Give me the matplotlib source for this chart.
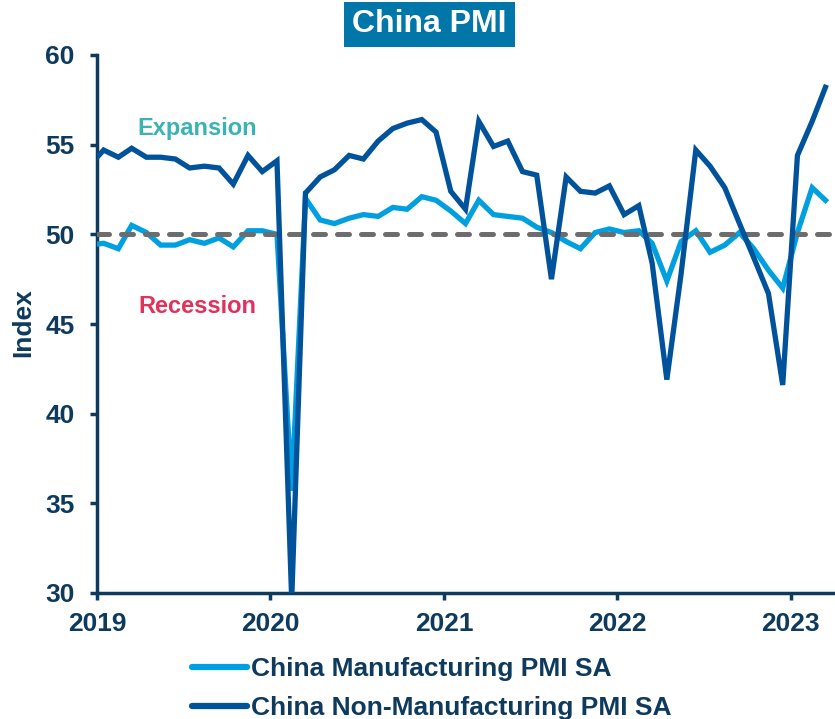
import numpy as np
import pandas as pd
import matplotlib
matplotlib.use('Agg')
import matplotlib.pyplot as plt
from matplotlib.patches import Rectangle

plt.rcParams['font.family'] = ['Liberation Sans', 'DejaVu Sans']
plt.rcParams['font.weight'] = 'bold'

# monthly values, Dec 2018 .. Mar 2023 (plotted mid-month)
months = pd.date_range('2018-12-01', '2023-03-01', freq='MS') + pd.Timedelta(days=14)

mfg_pmi = [49.4,
           49.5, 49.2, 50.5, 50.1, 49.4, 49.4, 49.7, 49.5, 49.8, 49.3, 50.2, 50.2,
           50.0, 35.7, 52.0, 50.8, 50.6, 50.9, 51.1, 51.0, 51.5, 51.4, 52.1, 51.9,
           51.3, 50.6, 51.9, 51.1, 51.0, 50.9, 50.4, 50.1, 49.6, 49.2, 50.1, 50.3,
           50.1, 50.2, 49.5, 47.4, 49.6, 50.2, 49.0, 49.4, 50.1, 49.2, 48.0, 47.0,
           50.1, 52.6, 51.9]

non_mfg_pmi = [53.8,
               54.7, 54.3, 54.8, 54.3, 54.3, 54.2, 53.7, 53.8, 53.7, 52.8, 54.4, 53.5,
               54.1, 29.6, 52.3, 53.2, 53.6, 54.4, 54.2, 55.2, 55.9, 56.2, 56.4, 55.7,
               52.4, 51.4, 56.3, 54.9, 55.2, 53.5, 53.3, 47.5, 53.2, 52.4, 52.3, 52.7,
               51.1, 51.6, 48.4, 41.9, 47.8, 54.7, 53.8, 52.6, 50.6, 48.7, 46.7, 41.6,
               54.4, 56.3, 58.2]

year_ticks = ['2019', '2020', '2021', '2022', '2023']
y_ticks = [30, 35, 40, 45, 50, 55, 60]

NAVY = '#0E3A5E'
LIGHT = '#00A0E0'
DARK = '#00529B'

W, H = 835, 719
fig = plt.figure(figsize=(W / 100, H / 100), dpi=100)
ax = fig.add_axes([97 / W, 1 - 593 / H, (834 - 97) / W, (593 - 55) / H])

ax.plot(months, mfg_pmi, color=LIGHT, lw=3.8, solid_joinstyle='miter', zorder=3,
        label='China Manufacturing PMI SA')
ax.axhline(50, color='#6D6D6D', lw=3.6, dashes=(2.4, 2.4), dash_capstyle='round', zorder=4)
ax.plot(months, non_mfg_pmi, color=DARK, lw=3.8, solid_joinstyle='miter', zorder=5,
        label='China Non-Manufacturing PMI SA')

ax.set_xlim(pd.Timestamp('2019-01-01'), pd.Timestamp('2023-04-02'))
ax.set_ylim(30, 60)
ax.set_xticks([pd.Timestamp(y + '-01-01') for y in year_ticks])
ax.set_xticklabels(year_ticks)
ax.set_yticks(y_ticks)

for s in ['top', 'right']:
    ax.spines[s].set_visible(False)
for s in ['left', 'bottom']:
    ax.spines[s].set_color(NAVY)
    ax.spines[s].set_linewidth(2.5)
ax.tick_params(axis='both', colors=NAVY, labelsize=19, width=2.5, length=5)
ax.tick_params(axis='x', pad=9)
ax.tick_params(axis='y', pad=11)
for lab in ax.get_xticklabels() + ax.get_yticklabels():
    lab.set_fontweight('bold')

# y label placed by hand, centred at x=22px
fig.text(23 / W, 1 - 323 / H, 'Index', rotation=90, fontsize=19, fontweight='bold',
         color=NAVY, ha='center', va='center')

ax.text(pd.Timestamp('2019-08-01'), 55.9, 'Expansion', color='#3BB3B3', fontsize=17,
        fontweight='bold', ha='center', va='center')
ax.text(pd.Timestamp('2019-08-01'), 46.0, 'Recession', color='#E0325A', fontsize=17,
        fontweight='bold', ha='center', va='center')

# title box
fig.patches.append(Rectangle((344 / W, 1 - 47 / H), 171 / W, 45 / H,
                             transform=fig.transFigure, facecolor='#0077A8',
                             edgecolor='none', zorder=1))
fig.text(429 / W, 1 - 24 / H, 'China PMI', color='white', fontsize=23, fontweight='bold',
         ha='center', va='center', zorder=2)

leg = fig.legend(loc='upper left', bbox_to_anchor=(192 / W, 1 - 657 / H), frameon=False,
                 fontsize=19, handlelength=2.1, handletextpad=0.15, labelspacing=0.58,
                 borderpad=0, borderaxespad=0)
for t in leg.get_texts():
    t.set_color(NAVY)
    t.set_fontweight('bold')
for h in leg.get_lines():
    h.set_linewidth(4.5)
    h.set_solid_capstyle('round')

fig.savefig('out.png', dpi=100)
